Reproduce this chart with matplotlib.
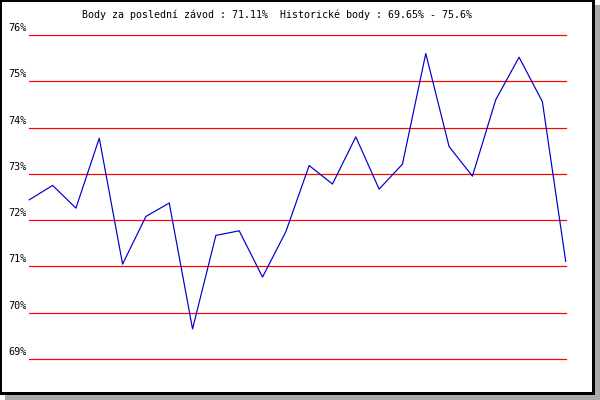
import matplotlib
matplotlib.use("Agg")
import matplotlib.pyplot as plt
from matplotlib.patches import Rectangle

title = "Body za poslední závod : 71.11%  Historické body : 69.65% - 75.6%"
y_ticks = [69, 70, 71, 72, 73, 74, 75, 76]
y_labels = ["69%", "70%", "71%", "72%", "73%", "74%", "75%", "76%"]
values = [72.44, 72.75, 72.26, 73.77, 71.05, 72.08, 72.37, 69.65,
          71.67, 71.77, 70.77, 71.75, 73.18, 72.78, 73.80, 72.67,
          73.21, 75.60, 73.59, 72.95, 74.60, 75.52, 74.56, 71.11]

W, H = 600, 400
fig = plt.figure(figsize=(6, 4), dpi=100)
fig.patch.set_facecolor("white")

# shadow and frame
fig.patches.append(Rectangle((5 / W, 0), 595 / W, 395 / H, transform=fig.transFigure,
                             facecolor="#aaaaaa", edgecolor="none", zorder=-3))
fig.patches.append(Rectangle((0, 5 / H), 595 / W, 395 / H, transform=fig.transFigure,
                             facecolor="black", edgecolor="none", zorder=-2))
fig.patches.append(Rectangle((2 / W, 8 / H), 590 / W, 390 / H, transform=fig.transFigure,
                             facecolor="white", edgecolor="none", zorder=-1))

left, right = 29.3, 565.7
top, bottom = 35.0, 359.0
ax = fig.add_axes([left / W, (H - bottom) / H, (right - left) / W, (bottom - top) / H])
ax.set_zorder(1)
ax.set_xlim(0, len(values) - 1)
ax.set_ylim(69, 76)
ax.axis("off")
ax.patch.set_alpha(0)

lw = 72 / 100.0
for t, lab in zip(y_ticks, y_labels):
    ax.axhline(t, color="#ff0000", lw=lw * 1.2, zorder=1, clip_on=False)
    ax.annotate(lab, xy=(0, t), xycoords=("axes fraction", "data"),
                xytext=(-3, 7), textcoords="offset pixels",
                ha="right", va="center", fontsize=7.3,
                family="DejaVu Sans Mono", color="black", annotation_clip=False)

ax.plot(range(len(values)), values, color="#0000cc", lw=lw * 1.2, zorder=2,
        clip_on=False)

fig.text(82 / W, 1 - 15 / H, title, ha="left", va="center", fontsize=7.2,
         family="DejaVu Sans Mono", color="black", zorder=2)

fig.savefig("out.png", dpi=100)
